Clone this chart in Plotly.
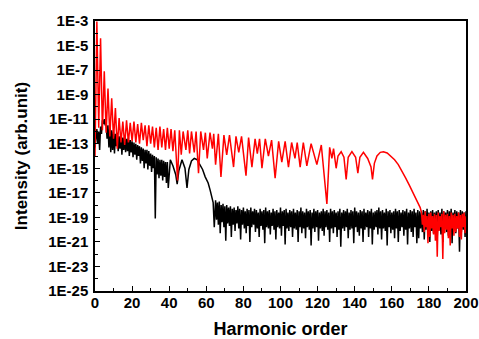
import plotly.graph_objects as go

# ---------------- data (log10 of intensity) ----------------
# red spectrum: smooth part (harmonic order, log10 intensity)
red_order = [0, 1, 2, 3, 4, 5, 6, 7, 8, 9, 10, 11, 12, 13, 14, 15, 16, 17, 18, 19, 20,
             21, 22, 23, 24, 25, 26, 27, 28, 29, 30, 31, 32, 33, 34, 35, 36, 37, 38, 39, 40,
             41, 42, 43, 44.5, 45.5, 46.5, 47.5, 49, 50, 51, 52, 53.5, 54.5, 55.8, 57, 58.5,
             59.5, 60.5, 62, 63.3, 64, 65, 66.5, 67.9, 69.5, 71, 72.5, 74.7, 76, 77.5, 79,
             81.4, 82.8, 84.6, 86.3, 87.5, 88.7, 90, 91.8, 93.5, 95.2, 97.1, 99, 100.7, 102.5,
             104.3, 106, 107.8, 109, 110.6, 112.3, 114.2, 116.5, 119.6, 122, 125, 126.5,
             127.7, 128.6, 130, 131, 132.7, 134.2, 135.4, 136.5, 138.5, 140.5, 141.7, 142.8,
             144.7, 147, 148.8, 149.6, 150.6, 152, 153.8, 155.5, 157.5, 159.5, 161.5, 163.5,
             165.5, 167.5, 169.5, 171.5, 173.5, 175.3]
red_exp = [-14.0, -3.05, -11.7, -4.4, -11.9, -7.1, -12.1, -8.5, -12.4, -9.3, -12.6, -10.1,
           -13.4, -10.9, -12.9, -11.2, -13.1, -11.1, -12.9, -11.3, -12.8, -11.2, -12.9, -11.4,
           -13.0, -11.3, -12.7, -11.5, -13.2, -11.5, -13.0, -11.6, -13.3, -11.7, -13.5, -11.6,
           -13.3, -11.8, -13.5, -11.7, -13.4, -11.8, -13.6, -11.9, -16.0, -11.9, -13.9, -12.0,
           -13.5, -11.9, -13.8, -12.0, -13.7, -12.0, -15.4, -12.0, -13.5, -12.1, -14.2, -12.1,
           -13.4, -12.2, -14.7, -12.2, -15.7, -12.3, -13.9, -12.3, -14.9, -12.4, -13.7, -12.4,
           -15.6, -12.5, -14.9, -12.6, -13.8, -12.6, -15.0, -12.6, -14.0, -12.7, -15.8, -12.8,
           -14.5, -12.8, -14.9, -12.9, -14.2, -12.9, -14.9, -12.9, -14.8, -13.0, -14.7, -13.1,
           -17.9, -13.3, -14.2, -13.4, -15.0, -14.0, -13.65, -14.1, -15.9, -14.1, -13.65,
           -14.1, -15.4, -14.1, -13.7, -14.2, -14.9, -15.9, -14.6, -14.0, -13.7, -13.65, -13.75,
           -14.0, -14.3, -14.7, -15.2, -15.8, -16.4, -17.0, -17.6, -18.2]
# red spectrum: noisy tail, upper and lower excursions per harmonic order 176..199
red_tail_order = list(range(176, 200))
red_tail_hi = [-18.6, -18.8, -18.5, -18.9, -18.7, -18.6, -18.9, -18.7, -18.8, -18.6, -18.9, -18.7,
               -18.5, -18.8, -18.7, -18.9, -18.6, -18.8, -18.7, -18.9, -18.6, -18.8, -18.7, -18.6]
red_tail_lo = [-19.6, -20.2, -19.8, -21.1, -20.6, -19.9, -20.4, -20.9, -22.2, -20.1, -19.8, -22.4,
               -20.3, -20.0, -20.7, -21.3, -19.9, -20.5, -20.2, -19.9, -20.6, -20.8, -19.8, -20.3]
red_end = [200, -18.9]

# black spectrum: structured part
black_order = [0, 0.5, 1, 1.5, 2, 2.5, 3, 3.5, 4, 4.5, 5, 5.5, 6, 6.5, 7, 7.5, 8, 8.5, 9, 9.5,
               10, 10.5, 11, 11.5, 12, 12.5, 13, 13.5, 14, 14.5, 15, 15.5, 16, 16.5, 17, 17.5,
               18, 18.5, 19, 19.5, 20, 20.5, 21, 21.5, 22, 22.5, 23, 23.5, 24, 24.5, 25, 25.5,
               26, 26.5, 27, 27.5, 28, 28.5, 29, 29.5, 30, 30.5, 31, 31.5, 32, 32.5, 33, 33.5,
               34, 34.5, 35, 35.5, 36, 36.5, 37, 37.5, 38, 38.5, 39, 39.5, 40.6, 42, 43.5, 44.3,
               45.2, 46.9, 48.5, 49.6, 50.6, 52, 53.5, 55, 56.7, 58, 59.4, 61, 62.1, 63, 63.7, 64.3]
black_exp = [-13.3, -12.5, -11.8, -13.0, -12.0, -13.5, -11.6, -12.2, -11.1, -11.4, -11.0, -11.5,
             -11.2, -12.6, -11.5, -13.3, -11.6, -13.7, -11.9, -13.5, -12.0, -13.8, -12.2, -13.2,
             -12.1, -13.6, -12.4, -13.4, -12.3, -13.9, -12.5, -13.5, -12.4, -13.7, -12.6, -13.6,
             -12.5, -14.0, -12.7, -13.7, -12.8, -14.1, -12.9, -13.9, -13.0, -14.3, -13.1, -14.0,
             -13.2, -14.6, -13.3, -14.4, -13.4, -15.0, -13.5, -14.6, -13.5, -15.1, -13.6, -14.8,
             -13.8, -15.3, -13.9, -15.0, -14.0, -19.1, -14.1, -15.5, -14.2, -15.8, -14.3, -15.6,
             -14.3, -16.0, -14.4, -15.7, -14.5, -16.2, -14.5, -16.6, -14.3, -14.8, -15.5, -16.3,
             -15.2, -14.3, -15.0, -16.6, -15.1, -14.4, -14.2, -14.3, -14.7, -15.1, -15.7, -16.2,
             -16.8, -17.3, -17.8, -19.8]
# black spectrum: noise floor, upper and lower excursions per harmonic order 65..199
black_tail_order = list(range(65, 200))
black_tail_hi = [-17.6, -17.8, -17.7, -18.0, -17.9, -18.1, -18.0, -18.2, -18.1, -18.3,
                 -18.2, -18.4, -18.1, -18.3, -18.4, -18.2, -18.5, -18.3, -18.4, -18.2,
                 -18.5, -18.3, -18.4, -18.6, -18.3, -18.5, -18.4, -18.2, -18.5, -18.4,
                 -18.6, -18.3, -18.5, -18.4, -18.6, -18.2, -18.5, -18.4, -18.3, -18.6,
                 -18.4, -18.5, -18.3, -18.6, -18.4, -18.5, -18.2, -18.5, -18.6, -18.3,
                 -18.5, -18.4, -18.6, -18.3, -18.5, -18.4, -18.6, -18.5, -18.3, -18.5,
                 -18.4, -18.6, -18.3, -18.5, -18.4, -18.6, -18.5, -18.3, -18.6, -18.4,
                 -18.5, -18.3, -18.6, -18.4, -18.5, -18.2, -18.5, -18.6, -18.4, -18.5,
                 -18.3, -18.6, -18.4, -18.5, -18.3, -18.6, -18.5, -18.4, -18.2, -18.5,
                 -18.4, -18.6, -18.3, -18.5, -18.4, -18.6, -18.5, -18.3, -18.5, -18.4,
                 -18.6, -18.4, -18.5, -18.3, -18.6, -18.4, -18.5, -18.3, -18.6, -18.4,
                 -18.5, -18.6, -18.4, -18.5, -18.3, -18.6, -18.5, -18.4, -18.6, -18.5,
                 -18.4, -18.6, -18.3, -18.5, -18.6, -18.4, -18.5, -18.3, -18.6, -18.4,
                 -18.5, -18.6, -18.4, -18.5, -18.6]
black_tail_lo = [-19.2, -19.6, -20.3, -19.4, -19.8, -20.9, -19.5, -19.7, -20.6, -19.6,
                 -20.1, -19.5, -19.9, -20.8, -19.6, -19.9, -20.3, -19.7, -21.0, -19.8,
                 -19.6, -20.2, -19.9, -20.6, -19.7, -20.0, -21.1, -19.8, -19.9, -20.4,
                 -19.7, -20.0, -20.8, -19.8, -19.9, -20.5, -19.7, -21.2, -19.9, -20.1,
                 -19.8, -20.6, -19.9, -20.0, -21.0, -19.8, -20.3, -19.9, -20.7, -19.8,
                 -20.0, -21.3, -19.9, -20.2, -19.8, -20.9, -19.9, -20.1, -20.5, -19.8,
                 -20.0, -21.0, -19.9, -20.3, -19.8, -20.6, -20.0, -21.4, -19.9, -20.1,
                 -19.8, -20.7, -20.0, -19.9, -21.1, -19.8, -20.2, -20.5, -19.9, -21.0,
                 -20.0, -19.8, -20.6, -19.9, -21.2, -20.0, -19.8, -20.4, -19.9, -20.8,
                 -19.9, -20.1, -21.3, -19.8, -20.3, -20.0, -20.7, -19.9, -21.0, -20.1,
                 -19.8, -20.5, -20.0, -21.2, -19.9, -20.2, -20.6, -19.8, -21.1, -20.7,
                 -19.9, -20.2, -20.8, -20.0, -19.9, -21.0, -20.1, -20.3, -19.8, -20.6,
                 -20.0, -20.4, -21.0, -19.9, -20.2, -20.5, -19.8, -21.1, -20.0, -20.3,
                 -19.9, -21.8, -20.2, -20.0, -20.6]
black_end = [200, -18.5]

x_ticks = [0, 20, 40, 60, 80, 100, 120, 140, 160, 180, 200]
y_tick_exps = [-3, -5, -7, -9, -11, -13, -15, -17, -19, -21, -23, -25]
y_tick_labels = ["1E-3", "1E-5", "1E-7", "1E-9", "1E-11", "1E-13", "1E-15", "1E-17",
                 "1E-19", "1E-21", "1E-23", "1E-25"]


def assemble(order, exps, tail_order, tail_hi, tail_lo, end):
    xs = list(order)
    ys = [10 ** e for e in exps]
    for k, hi, lo in zip(tail_order, tail_hi, tail_lo):
        xs += [k, k + 0.5]
        ys += [10 ** hi, 10 ** lo]
    xs.append(end[0])
    ys.append(10 ** end[1])
    return xs, ys


bx, by = assemble(black_order, black_exp, black_tail_order, black_tail_hi, black_tail_lo, black_end)
rx, ry = assemble(red_order, red_exp, red_tail_order, red_tail_hi, red_tail_lo, red_end)

fig = go.Figure()
fig.add_trace(go.Scatter(x=bx, y=by, mode="lines", line=dict(color="black", width=1.5),
                         name="black"))
fig.add_trace(go.Scatter(x=rx, y=ry, mode="lines", line=dict(color="#ff0000", width=1.5),
                         name="red"))

tick_font = dict(family="Liberation Sans, Arial", size=15, color="black", weight="bold")
title_font = dict(family="Liberation Sans, Arial", size=18, color="black", weight="bold")

all_decades = [10 ** (-k) for k in range(3, 26)]

fig.update_layout(
    width=479, height=339,
    margin=dict(l=95, r=13, t=21, b=48, autoexpand=False),
    plot_bgcolor="white", paper_bgcolor="white",
    showlegend=False,
    xaxis=dict(
        range=[0, 200], tickmode="array", tickvals=x_ticks,
        ticks="inside", ticklen=5, tickwidth=1.2, tickcolor="black",
        minor=dict(ticks="inside", ticklen=3, tickwidth=1, dtick=10, tickcolor="black"),
        showline=True, linecolor="black", linewidth=1.5, mirror=True,
        showgrid=False, zeroline=False, tickfont=tick_font, automargin=False,
        ticklabelstandoff=-3,
        title=dict(text="Harmonic order", font=title_font, standoff=16),
    ),
    yaxis=dict(
        type="log", range=[-25, -3], tickmode="array",
        tickvals=[10 ** e for e in y_tick_exps], ticktext=y_tick_labels,
        ticks="inside", ticklen=5, tickwidth=1.2, tickcolor="black",
        minor=dict(ticks="inside", ticklen=3, tickwidth=1, tickvals=all_decades,
                   tickcolor="black"),
        showline=True, linecolor="black", linewidth=1.5, mirror=True,
        showgrid=False, zeroline=False, tickfont=tick_font, automargin=False,
        ticklabelstandoff=2,
        title=dict(text="Intensity (arb.unit)", font=dict(title_font, size=17), standoff=16),
    ),
)

fig.write_html(
    "out.html",
    config={"displayModeBar": False},
    post_script="document.body.style.margin='0px';document.body.style.overflow='hidden';",
)
